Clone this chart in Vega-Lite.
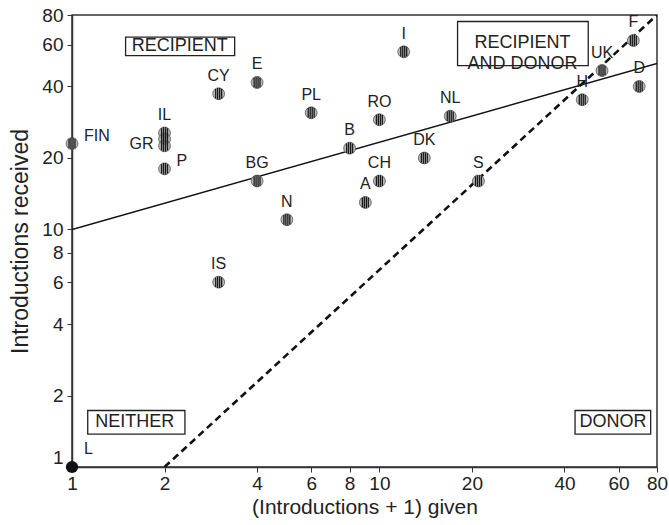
{
  "$schema": "https://vega.github.io/schema/vega-lite/v6.json",
  "width": 585,
  "height": 452,
  "autosize": {"type": "none"},
  "padding": {"left": 72, "top": 15, "right": 12, "bottom": 58},
  "background": "white",
  "config": {
    "view": {"stroke": "#333", "strokeWidth": 1.5},
    "font": "Liberation Sans"
  },
  "datasets": {
    "points": [
      {"c": "FIN", "x": 1, "y": 23, "pos": "right"},
      {"c": "IL", "x": 2, "y": 25.5, "pos": "above"},
      {"c": "", "x": 2, "y": 24, "pos": "none"},
      {"c": "GR", "x": 2, "y": 22.5, "pos": "left"},
      {"c": "P", "x": 2, "y": 18, "pos": "right"},
      {"c": "CY", "x": 3, "y": 37.3, "pos": "above"},
      {"c": "E", "x": 4, "y": 41.6, "pos": "above"},
      {"c": "PL", "x": 6, "y": 31, "pos": "above"},
      {"c": "BG", "x": 4, "y": 16, "pos": "above"},
      {"c": "N", "x": 5, "y": 11, "pos": "above"},
      {"c": "IS", "x": 3, "y": 6, "pos": "above"},
      {"c": "I", "x": 12, "y": 56, "pos": "above"},
      {"c": "RO", "x": 10, "y": 29, "pos": "above"},
      {"c": "B", "x": 8, "y": 22, "pos": "above"},
      {"c": "NL", "x": 17, "y": 30, "pos": "above"},
      {"c": "DK", "x": 14, "y": 20, "pos": "above"},
      {"c": "CH", "x": 10, "y": 16, "pos": "above"},
      {"c": "A", "x": 9, "y": 13, "pos": "above"},
      {"c": "S", "x": 21, "y": 16, "pos": "above"},
      {"c": "H", "x": 45.7, "y": 35.2, "pos": "above"},
      {"c": "UK", "x": 53, "y": 46.7, "pos": "above"},
      {"c": "F", "x": 67, "y": 62.5, "pos": "above"},
      {"c": "D", "x": 70, "y": 40, "pos": "above"},
      {"c": "L", "x": 1, "y": 1, "pos": "upright"}
    ],
    "lines": [
      {"line": "fit", "x": 1, "y": 10},
      {"line": "fit", "x": 80, "y": 50},
      {"line": "equal", "x": 2, "y": 1},
      {"line": "equal", "x": 80, "y": 80}
    ],
    "boxes": [
      {"label": "RECIPIENT", "x": 1.494, "x2": 3.382, "y": 64.6, "y2": 54.0, "tx": 2.242, "ty": 59.1},
      {"label": "RECIPIENT\nAND DONOR", "x": 17.96, "x2": 47.8, "y": 75.1, "y2": 49.0, "tx": 29.2, "ty": 61.2},
      {"label": "NEITHER", "x": 1.125, "x2": 2.33, "y": 1.729, "y2": 1.376, "tx": 1.6, "ty": 1.55},
      {"label": "DONOR", "x": 43.3, "x2": 76.3, "y": 1.729, "y2": 1.376, "tx": 57.5, "ty": 1.55}
    ]
  },
  "encoding": {
    "x": {
      "field": "x",
      "type": "quantitative",
      "scale": {"type": "log", "domain": [1, 80], "nice": false},
      "axis": {
        "values": [1, 2, 4, 6, 8, 10, 20, 40, 60, 80],
        "format": "d",
        "grid": false,
        "labelFontSize": 19,
        "labelColor": "#222",
        "labelPadding": 2,
        "labelOverlap": false,
        "labelFlush": false,
        "tickSize": 5,
        "tickColor": "#333",
        "domainColor": "#333",
        "domainWidth": 1.5,
        "title": "(Introductions + 1) given",
        "titleFontSize": 21,
        "titleFontWeight": "normal",
        "titleColor": "#222",
        "titlePadding": 3
      }
    },
    "y": {
      "field": "y",
      "type": "quantitative",
      "scale": {"type": "log", "domain": [1, 80], "nice": false},
      "axis": {
        "values": [1, 2, 4, 6, 8, 10, 20, 40, 60, 80],
        "format": "d",
        "grid": false,
        "labelFontSize": 19,
        "labelColor": "#222",
        "labelPadding": 4,
        "labelOverlap": false,
        "labelFlush": false,
        "labelOffset": {"condition": {"test": "datum.value == 1", "value": -10}, "value": 0},
        "tickSize": 5,
        "tickColor": "#333",
        "domainColor": "#333",
        "domainWidth": 1.5,
        "title": "Introductions received",
        "titleFontSize": 23,
        "titleFontWeight": "normal",
        "titleColor": "#222",
        "titlePadding": 9
      }
    }
  },
  "layer": [
    {
      "data": {"name": "lines"},
      "transform": [{"filter": "datum.line == 'fit'"}],
      "mark": {"type": "line", "color": "#111", "strokeWidth": 1.4, "clip": true},
      "encoding": {}
    },
    {
      "data": {"name": "lines"},
      "transform": [{"filter": "datum.line == 'equal'"}],
      "mark": {"type": "line", "color": "#111", "strokeWidth": 2.6, "strokeDash": [7, 4.5], "clip": true},
      "encoding": {}
    },
    {
      "data": {"name": "boxes"},
      "mark": {"type": "rect", "fill": "white", "stroke": "#222", "strokeWidth": 1.3},
      "encoding": {
        "x2": {"field": "x2"},
        "y2": {"field": "y2"}
      }
    },
    {
      "data": {"name": "boxes"},
      "mark": {"type": "text", "fontSize": 18, "fill": "#222", "align": "center", "baseline": "middle", "lineBreak": "\n", "lineHeight": 21},
      "encoding": {
        "x": {"field": "tx", "type": "quantitative"},
        "y": {"field": "ty", "type": "quantitative"},
        "text": {"field": "label"}
      }
    },
    {
      "data": {"name": "points"},
      "transform": [{"filter": "datum.c != 'L'"}],
      "mark": {"type": "point", "shape": "circle", "filled": true, "fill": "#b8b8b8", "stroke": "#555", "strokeWidth": 0.8, "size": 140, "opacity": 1},
      "encoding": {}
    },
    {
      "data": {"name": "points"},
      "transform": [{"filter": "datum.c != 'L'"}],
      "mark": {"type": "point", "shape": "M-0.5,-0.8L-0.5,0.8M-0.17,-0.97L-0.17,0.97M0.17,-0.97L0.17,0.97M0.5,-0.8L0.5,0.8", "filled": false, "stroke": "#1a1a1a", "strokeWidth": 1.3, "size": 140, "opacity": 1},
      "encoding": {}
    },
    {
      "data": {"name": "points"},
      "transform": [{"filter": "datum.c == 'L'"}],
      "mark": {"type": "point", "shape": "circle", "filled": true, "fill": "#111", "size": 150, "opacity": 1, "clip": false},
      "encoding": {}
    },
    {
      "data": {"name": "points"},
      "transform": [{"filter": "datum.pos == 'above'"}],
      "mark": {"type": "text", "fontSize": 16, "fill": "#222", "align": "center", "baseline": "middle", "dy": -18},
      "encoding": {"text": {"field": "c"}}
    },
    {
      "data": {"name": "points"},
      "transform": [{"filter": "datum.pos == 'right'"}],
      "mark": {"type": "text", "fontSize": 16, "fill": "#222", "align": "left", "baseline": "middle", "dx": 12, "dy": -8},
      "encoding": {"text": {"field": "c"}}
    },
    {
      "data": {"name": "points"},
      "transform": [{"filter": "datum.pos == 'left'"}],
      "mark": {"type": "text", "fontSize": 16, "fill": "#222", "align": "right", "baseline": "middle", "dx": -11, "dy": -2},
      "encoding": {"text": {"field": "c"}}
    },
    {
      "data": {"name": "points"},
      "transform": [{"filter": "datum.pos == 'upright'"}],
      "mark": {"type": "text", "fontSize": 16, "fill": "#222", "align": "left", "baseline": "middle", "dx": 12, "dy": -18},
      "encoding": {"text": {"field": "c"}}
    }
  ]
}
